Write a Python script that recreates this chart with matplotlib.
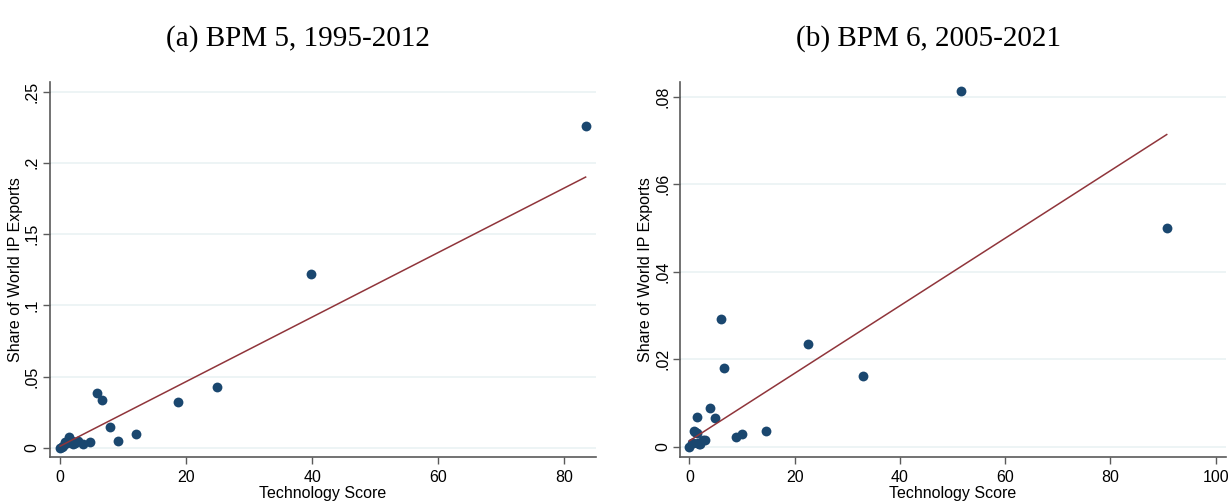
import numpy as np
import matplotlib
matplotlib.use("Agg")
import matplotlib.pyplot as plt

# Panel (a): BPM 5, 1995-2012
tech_a = [0.0, 0.3, 0.5, 0.75, 1.0, 1.43, 1.8, 2.0, 2.3, 2.8, 3.65, 4.8,
          5.8, 6.6, 7.9, 9.1, 12.0, 18.7, 24.9, 39.8, 83.4]
share_a = [0.0, 0.0008, 0.0015, 0.0042, 0.0030, 0.0077, 0.0050, 0.0025, 0.0035,
           0.0045, 0.0025, 0.0039, 0.0383, 0.0334, 0.0146, 0.0044, 0.0096,
           0.0319, 0.0425, 0.1223, 0.2260]
# linear fit (intercept, slope) for panel (a)
fit_a = [0.0012, 0.002264]

# Panel (b): BPM 6, 2005-2021
tech_b = [0.0, 0.45, 0.76, 0.89, 1.0, 1.4, 1.52, 1.7, 1.84, 2.0, 2.66, 3.0,
          3.93, 4.95, 5.96, 6.6, 8.9, 10.1, 14.6, 22.5, 33.0, 51.6, 90.7]
share_b = [0.0, 0.0009, 0.0010, 0.0037, 0.0035, 0.0031, 0.0069, 0.0010, 0.0006,
           0.0006, 0.0017, 0.0015, 0.0090, 0.0067, 0.0293, 0.0181, 0.0022,
           0.0029, 0.0037, 0.0236, 0.0163, 0.0813, 0.0499]
# linear fit (intercept, slope) for panel (b)
fit_b = [0.0014, 0.000771]

titles = ["(a) BPM 5, 1995-2012", "(b) BPM 6, 2005-2021"]
xticks_a = [0, 20, 40, 60, 80]
yticks_a = [0, 0.05, 0.10, 0.15, 0.20, 0.25]
ylabels_a = ["0", ".05", ".1", ".15", ".2", ".25"]
xticks_b = [0, 20, 40, 60, 80, 100]
yticks_b = [0, 0.02, 0.04, 0.06, 0.08]
ylabels_b = ["0", ".02", ".04", ".06", ".08"]

NAVY = "#1a476f"
MAROON = "#90353b"
GRID = "#eaf2f3"
SPINE = "#5a5a5a"

W, H = 1229, 501
fig = plt.figure(figsize=(W / 100, H / 100), dpi=100)
ax_a = fig.add_axes([0.0403, 0.0878, 0.4444, 0.7492])
ax_b = fig.add_axes([0.5533, 0.0878, 0.4440, 0.7492])

# each title sits centred over its whole sub-graph, not just the plot area
title_x = [298 / W, 928 / W]
title_y = 1 - 45.5 / H

panels = [
    (ax_a, tech_a, share_a, fit_a, xticks_a, yticks_a, ylabels_a, (-1.7, 85.0), (-0.0065, 0.257)),
    (ax_b, tech_b, share_b, fit_b, xticks_b, yticks_b, ylabels_b, (-1.77, 101.9), (-0.00228, 0.0834)),
]

for i, (ax, x, y, fit, xt, yt, ytl, xl, yl) in enumerate(panels):
    x = np.asarray(x)
    y = np.asarray(y)
    ax.scatter(x, y, s=50, color=NAVY, zorder=3, linewidths=0)
    intercept, slope = fit
    xs = np.array([x.min(), x.max()])
    ax.plot(xs, intercept + slope * xs, color=MAROON, lw=1.1, zorder=4)

    ax.set_xlim(*xl)
    ax.set_ylim(*yl)
    ax.set_xticks(xt)
    ax.set_xticklabels([str(v) for v in xt], fontsize=11.5, family="Liberation Sans")
    ax.set_yticks(yt)
    ax.set_yticklabels(ytl, fontsize=11.5, family="Liberation Sans", rotation=90, va="center")
    for v in yt:
        ax.axhline(v, color=GRID, lw=1.2, zorder=0)
    for s in ("top", "right"):
        ax.spines[s].set_visible(False)
    for s in ("left", "bottom"):
        ax.spines[s].set_color(SPINE)
        ax.spines[s].set_linewidth(1.2)
    ax.tick_params(axis="x", direction="out", length=5, width=1.0, color=SPINE, pad=4)
    ax.tick_params(axis="y", direction="out", length=5, width=1.0, color=SPINE, pad=2)
    ax.set_xlabel("Technology Score", fontsize=11.5, family="Liberation Sans", labelpad=1)
    ax.set_ylabel("Share of World IP Exports", fontsize=11.5, family="Liberation Sans", labelpad=1.5)
    fig.text(title_x[i], title_y, titles[i], fontsize=21, family="Liberation Serif",
             ha="center", va="baseline")

fig.savefig("out.png", dpi=100)
